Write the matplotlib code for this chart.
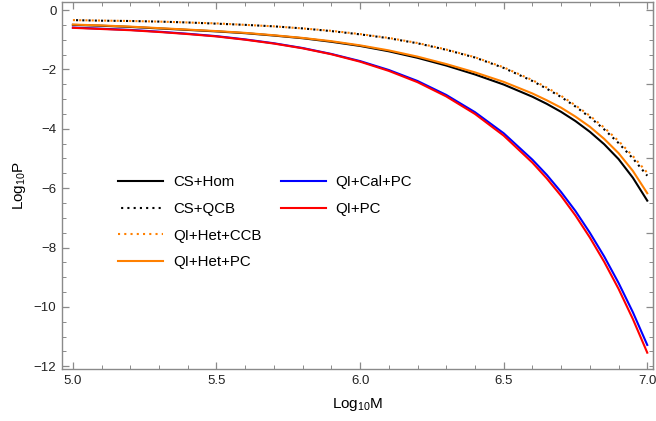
import numpy as np
import matplotlib.pyplot as plt
from matplotlib.lines import Line2D
from matplotlib.ticker import MultipleLocator

plt.rcParams['font.family'] = ['Liberation Sans', 'DejaVu Sans']
plt.rcParams['mathtext.fontset'] = 'custom'
plt.rcParams['mathtext.rm'] = 'Liberation Sans'
plt.rcParams['mathtext.it'] = 'Liberation Sans'

# values (Log10 M vs Log10 P)
log_m = [5.0, 5.1, 5.2, 5.3, 5.4, 5.5, 5.6, 5.7, 5.8, 5.9, 6.0,
         6.1, 6.2, 6.3, 6.4, 6.5, 6.6, 6.65, 6.7, 6.75, 6.8, 6.85, 6.9, 6.95, 7.0]
cs_hom = [-0.50, -0.53, -0.57, -0.62, -0.67, -0.72, -0.78, -0.86, -0.95, -1.07, -1.21,
          -1.39, -1.61, -1.87, -2.17, -2.51, -2.92, -3.16, -3.43, -3.74, -4.10, -4.52, -5.02, -5.65, -6.42]
cs_qcb = [-0.34, -0.36, -0.37, -0.39, -0.42, -0.46, -0.50, -0.55, -0.62, -0.71, -0.82,
          -0.95, -1.12, -1.34, -1.60, -1.95, -2.39, -2.65, -2.93, -3.25, -3.61, -4.02, -4.48, -5.00, -5.58]
qi_het_ccb = [-0.34, -0.355, -0.37, -0.39, -0.42, -0.45, -0.50, -0.55, -0.62, -0.70, -0.81,
              -0.94, -1.11, -1.33, -1.59, -1.93, -2.36, -2.61, -2.89, -3.21, -3.56, -3.96, -4.41, -4.92, -5.48]
qi_het_pc = [-0.49, -0.52, -0.56, -0.61, -0.66, -0.71, -0.77, -0.85, -0.94, -1.05, -1.19,
             -1.36, -1.57, -1.82, -2.10, -2.42, -2.81, -3.04, -3.29, -3.59, -3.93, -4.34, -4.82, -5.42, -6.17]
qi_cal_pc = [-0.59, -0.63, -0.67, -0.73, -0.80, -0.88, -0.99, -1.12, -1.28, -1.48, -1.72,
             -2.02, -2.39, -2.86, -3.44, -4.15, -5.04, -5.55, -6.13, -6.77, -7.50, -8.30, -9.19, -10.18, -11.28]
qi_pc = [-0.60, -0.64, -0.68, -0.74, -0.81, -0.89, -1.00, -1.13, -1.29, -1.49, -1.74,
         -2.05, -2.43, -2.91, -3.50, -4.23, -5.14, -5.67, -6.26, -6.92, -7.66, -8.48, -9.39, -10.41, -11.54]

orange = '#FF8000'
frame = '#8a8a8a'

fig = plt.figure(figsize=(6.56, 4.21), dpi=100)
ax = fig.add_axes([62/656, 1 - 369/421, 591/656, 367/421])

lw = 1.5
ax.plot(log_m, cs_hom, color='black', lw=lw, label='CS+Hom')
ax.plot(log_m, cs_qcb, color='black', lw=lw, ls=(1.5, (1, 2)), label='CS+QCB')
ax.plot(log_m, qi_het_ccb, color=orange, lw=lw, ls=(0, (1, 2)), label='QI+Het+CCB')
ax.plot(log_m, qi_het_pc, color=orange, lw=lw, label='QI+Het+PC')
ax.plot(log_m, qi_cal_pc, color='#0000FF', lw=lw, label='QI+Cal+PC')
ax.plot(log_m, qi_pc, color='#FF0000', lw=lw, label='QI+PC')

ax.set_xlim(4.962, 7.02)
ax.set_ylim(-12.09, 0.27)

ax.xaxis.set_major_locator(MultipleLocator(0.5))
ax.xaxis.set_minor_locator(MultipleLocator(0.1))
ax.yaxis.set_major_locator(MultipleLocator(2))
ax.yaxis.set_minor_locator(MultipleLocator(0.5))
ax.tick_params(which='both', direction='in', top=True, right=False, color=frame,
               labelsize=9.5, labelcolor='#222222', pad=4)
ax.tick_params(which='major', length=5, width=0.9)
ax.tick_params(which='minor', length=3, width=0.7)
for s in ax.spines.values():
    s.set_color(frame)
    s.set_linewidth(1.0)

# right frame carries its own ticks (every 2.5, minor 0.5), no labels
sec = ax.secondary_yaxis('right')
sec.yaxis.set_major_locator(MultipleLocator(2.5))
sec.yaxis.set_minor_locator(MultipleLocator(0.5))
sec.tick_params(which='both', direction='in', labelright=False, color=frame)
sec.tick_params(which='major', length=5, width=0.9)
sec.tick_params(which='minor', length=3, width=0.7)
sec.spines['right'].set_color(frame)

ax.set_xlabel(r'Log$_{10}$M', fontsize=11, labelpad=7)
ax.set_ylabel(r'Log$_{10}$P', fontsize=11, labelpad=4)

h, l = ax.get_legend_handles_labels()
blank = Line2D([], [], alpha=0)
handles = h[:4] + h[4:] + [blank, blank]
labels = l[:4] + l[4:] + ['', '']
ax.legend(handles, labels, ncol=2, frameon=False, fontsize=10.8,
          loc='upper left', bbox_to_anchor=(118/656, 1 - 175/421),
          bbox_transform=fig.transFigure, borderpad=0, borderaxespad=0,
          handlelength=3.0, handletextpad=0.65, columnspacing=1.3,
          labelspacing=0.85)

fig.savefig('out.png', dpi=100)
